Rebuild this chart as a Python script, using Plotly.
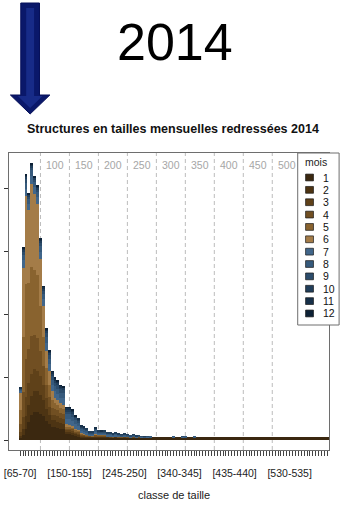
import plotly.graph_objects as go

W, H = 346, 505
FONT = "Liberation Sans, Arial, sans-serif"

# size classes (5 mm wide) and the few that carry a printed label
class_lows = list(range(65, 600, 5))
classes = [f"[{lo}-{lo + 5}]" for lo in class_lows]
labelled = ["[65-70]", "[150-155]", "[245-250]", "[340-345]", "[435-440]", "[530-535]"]
guides = [100, 150, 200, 250, 300, 350, 400, 450, 500]
y_ticks = [0, 100, 200, 300, 400]

months = ["1", "2", "3", "4", "5", "6", "7", "8", "9", "10", "11", "12"]
colors = ["#3b2810", "#4d3413", "#5f4119", "#714f22", "#89632f", "#a47c48",
          "#41668a", "#365a7c", "#2c4c6b", "#213e5a", "#173049", "#0d2136"]

# raised numbers per size class, one list per month
m01 = [3, 8, 18, 28, 40, 45, 45, 42, 38, 30, 25, 20, 20, 19, 18, 17, 9, 9, 8, 7,
       6, 4, 4, 4, 4, 4, 4, 4, 4, 4, 4, 4, 4, 4, 4, 4, 4, 4, 4, 4, 4, 4, 4, 4, 4, 4,
       4, 4, 4, 4, 4, 4, 4, 4, 4, 4, 4, 4, 4, 4, 4, 4, 4, 4, 4, 4, 4, 4, 4, 4,
       4, 4, 4, 4, 4, 4, 4, 4, 4, 4, 4, 4, 4, 4, 4, 4, 4, 4, 4, 4,
       4, 4, 4, 4, 4, 4, 4, 4, 4, 4, 4, 4, 4, 4, 4, 4, 4]
m02 = [4, 10, 20, 27, 30, 32, 32, 30, 26, 20, 15, 11, 11, 10, 9, 9, 4, 4, 4, 3,
       3, 2, 2, 1, 1, 1, 1, 1, 1, 1, 1, 0, 0, 1, 0, 0, 0, 0, 0, 0, 0, 0, 0, 0, 0, 0,
       0, 0, 0, 0, 0, 0, 0, 0, 0, 0, 0, 0, 0, 0, 0, 0, 0, 0, 0, 0, 0, 0, 0, 0,
       0, 0, 0, 0, 0, 0, 0, 0, 0, 0, 0, 0, 0, 0, 0, 0, 0, 0, 0, 0,
       0, 0, 0, 0, 0, 0, 0, 0, 0, 0, 0, 0, 0, 0, 0, 0, 0]
m03 = [6, 18, 30, 35, 35, 35, 33, 30, 24, 17, 13, 9, 9, 9, 8, 8, 3, 3, 3, 2,
       2, 1, 1, 1, 1, 0, 1, 1, 0, 1, 0, 1, 0, 0, 0, 0, 1, 0, 0, 0, 0, 0, 0, 0, 0, 0,
       0, 0, 0, 0, 0, 0, 0, 0, 0, 0, 0, 0, 0, 0, 0, 0, 0, 0, 0, 0, 0, 0, 0, 0,
       0, 0, 0, 0, 0, 0, 0, 0, 0, 0, 0, 0, 0, 0, 0, 0, 0, 0, 0, 0,
       0, 0, 0, 0, 0, 0, 0, 0, 0, 0, 0, 0, 0, 0, 0, 0, 0]
m04 = [12, 40, 60, 55, 60, 55, 52, 40, 30, 20, 15, 11, 10, 9, 8, 8, 3, 3, 3, 2,
       2, 2, 1, 1, 1, 1, 2, 1, 2, 1, 1, 1, 1, 1, 1, 1, 1, 1, 0, 1, 0, 1, 0, 0, 0, 0,
       0, 0, 0, 0, 0, 0, 0, 0, 0, 0, 0, 0, 0, 0, 0, 0, 0, 0, 0, 0, 0, 0, 0, 0,
       0, 0, 0, 0, 0, 0, 0, 0, 0, 0, 0, 0, 0, 0, 0, 0, 0, 0, 0, 0,
       0, 0, 0, 0, 0, 0, 0, 0, 0, 0, 0, 0, 0, 0, 0, 0, 0]
m05 = [22, 87, 119, 105, 110, 103, 100, 70, 45, 27, 20, 13, 9, 9, 8, 8, 3, 3, 2, 2,
       2, 1, 1, 1, 0, 1, 1, 1, 1, 1, 0, 0, 0, 0, 0, 0, 0, 0, 0, 0, 0, 0, 0, 0, 0, 0,
       0, 0, 0, 0, 0, 0, 0, 0, 0, 0, 0, 0, 0, 0, 0, 0, 0, 0, 0, 0, 0, 0, 0, 0,
       0, 0, 0, 0, 0, 0, 0, 0, 0, 0, 0, 0, 0, 0, 0, 0, 0, 0, 0, 0,
       0, 0, 0, 0, 0, 0, 0, 0, 0, 0, 0, 0, 0, 0, 0, 0, 0]
m06 = [28, 110, 140, 115, 132, 120, 112, 75, 50, 28, 21, 14, 8, 7, 7, 6, 3, 2, 2, 2,
       1, 1, 1, 1, 0, 0, 1, 0, 0, 0, 0, 0, 0, 0, 0, 0, 0, 0, 0, 0, 0, 0, 0, 0, 0, 0,
       0, 0, 0, 0, 0, 0, 0, 0, 0, 0, 0, 0, 0, 0, 0, 0, 0, 0, 0, 0, 0, 0, 0, 0,
       0, 0, 0, 0, 0, 0, 0, 0, 0, 0, 0, 0, 0, 0, 0, 0, 0, 0, 0, 0,
       0, 0, 0, 0, 0, 0, 0, 0, 0, 0, 0, 0, 0, 0, 0, 0, 0]
m07 = [3, 12, 12, 10, 12, 11, 11, 12, 11, 12, 11, 10, 10, 10, 9, 10, 9, 9, 8, 7,
       6, 4, 4, 3, 2, 2, 3, 2, 2, 2, 2, 2, 2, 2, 2, 1, 1, 1, 1, 1, 1, 0, 1, 0, 1, 0,
       0, 0, 0, 0, 0, 0, 0, 1, 0, 0, 1, 0, 0, 0, 0, 0, 0, 0, 0, 0, 0, 0, 0, 0,
       0, 0, 0, 0, 0, 0, 0, 0, 0, 0, 0, 0, 0, 0, 0, 0, 0, 0, 0, 0,
       0, 0, 0, 0, 0, 0, 0, 0, 0, 0, 0, 0, 0, 0, 0, 0, 0]
m08 = [2, 9, 9, 7, 9, 8, 8, 9, 8, 9, 9, 8, 8, 8, 8, 8, 7, 8, 7, 6,
       5, 3, 3, 3, 2, 2, 3, 2, 2, 2, 2, 2, 1, 2, 1, 1, 1, 1, 1, 1, 1, 1, 0, 1, 0, 1,
       0, 0, 0, 0, 0, 0, 0, 1, 0, 0, 0, 1, 0, 0, 1, 0, 0, 0, 0, 0, 0, 0, 0, 0,
       0, 0, 0, 0, 0, 0, 0, 0, 0, 0, 0, 0, 0, 0, 0, 0, 0, 0, 0, 0,
       0, 0, 0, 0, 0, 0, 0, 0, 0, 0, 0, 0, 0, 0, 0, 0, 0]
m09 = [1, 5, 6, 4, 5, 5, 5, 6, 6, 7, 6, 6, 6, 6, 6, 6, 5, 5, 5, 4,
       4, 2, 2, 2, 1, 1, 2, 2, 1, 2, 1, 1, 1, 1, 1, 1, 1, 1, 1, 1, 0, 1, 1, 0, 1, 0,
       0, 0, 0, 0, 0, 0, 0, 0, 0, 0, 1, 0, 0, 0, 0, 0, 0, 0, 0, 0, 0, 0, 0, 0,
       0, 0, 0, 0, 0, 0, 0, 0, 0, 0, 0, 0, 0, 0, 0, 0, 0, 0, 0, 0,
       0, 0, 0, 0, 0, 0, 0, 0, 0, 0, 0, 0, 0, 0, 0, 0, 0]
m10 = [1, 3, 4, 3, 3, 2, 3, 3, 3, 4, 4, 4, 4, 4, 3, 3, 3, 3, 3, 2,
       2, 2, 1, 1, 1, 1, 1, 1, 1, 1, 1, 1, 1, 1, 1, 1, 1, 1, 0, 1, 1, 0, 0, 1, 0, 0,
       0, 0, 0, 0, 0, 0, 0, 0, 0, 0, 0, 0, 0, 0, 0, 0, 0, 0, 0, 0, 0, 0, 0, 0,
       0, 0, 0, 0, 0, 0, 0, 0, 0, 0, 0, 0, 0, 0, 0, 0, 0, 0, 0, 0,
       0, 0, 0, 0, 0, 0, 0, 0, 0, 0, 0, 0, 0, 0, 0, 0, 0]
m11 = [1, 2, 2, 1, 2, 1, 2, 2, 2, 2, 2, 2, 3, 2, 2, 1, 2, 2, 2, 1,
       1, 1, 1, 0, 0, 0, 1, 0, 1, 0, 0, 0, 0, 0, 0, 0, 0, 0, 0, 0, 0, 0, 0, 0, 0, 0,
       0, 0, 0, 0, 0, 0, 0, 0, 0, 0, 0, 0, 0, 0, 0, 0, 0, 0, 0, 0, 0, 0, 0, 0,
       0, 0, 0, 0, 0, 0, 0, 0, 0, 0, 0, 0, 0, 0, 0, 0, 0, 0, 0, 0,
       0, 0, 0, 0, 0, 0, 0, 0, 0, 0, 0, 0, 0, 0, 0, 0, 0]
m12 = [0, 1, 1, 1, 1, 1, 1, 1, 1, 1, 1, 1, 1, 1, 1, 1, 1, 1, 1, 1,
       0, 0, 0, 0, 0, 0, 0, 0, 0, 0, 0, 0, 0, 0, 0, 0, 0, 0, 0, 0, 0, 0, 0, 0, 0, 0,
       0, 0, 0, 0, 0, 0, 0, 0, 0, 0, 0, 0, 0, 0, 0, 0, 0, 0, 0, 0, 0, 0, 0, 0,
       0, 0, 0, 0, 0, 0, 0, 0, 0, 0, 0, 0, 0, 0, 0, 0, 0, 0, 0, 0,
       0, 0, 0, 0, 0, 0, 0, 0, 0, 0, 0, 0, 0, 0, 0, 0, 0]

series = [m01, m02, m03, m04, m05, m06, m07, m08, m09, m10, m11, m12]
for s in series:
    if len(s) != len(classes):
        raise ValueError(f"series length {len(s)} != {len(classes)} classes")


def fx(x):
    """pixel column -> paper fraction"""
    return x / W


def fy(y):
    """pixel row (from top) -> paper fraction"""
    return 1 - y / H


fig = go.Figure()
for name, col, vals in zip(months, colors, series):
    fig.add_trace(go.Bar(x=classes, y=vals, name=name, marker_color=col,
                         marker_line_width=0, showlegend=False))

shapes = []
annotations = []

# dashed reference lines every 50 mm with their labels along the top
for g in guides:
    cls = f"[{g}-{g + 5}]"
    shapes.append(dict(type="line", xref="x", yref="y domain", x0=cls, x1=cls,
                       y0=0, y1=1, layer="below",
                       line=dict(color="#bcbcbc", width=1, dash="4px,3px")))
    annotations.append(dict(x=cls, y=fy(164.5), xref="x", yref="paper",
                            xanchor="left", yanchor="middle", xshift=4,
                            text=str(g), showarrow=False,
                            font=dict(family=FONT, size=10.5, color="#a6a6a6")))

# key box for the months
shapes.append(dict(type="rect", xref="paper", yref="paper",
                   x0=fx(297), x1=fx(339), y0=fy(325), y1=fy(153),
                   line=dict(color="#6e6e6e", width=1), fillcolor="white", layer="above"))
annotations.append(dict(x=fx(316), y=fy(162), xref="paper", yref="paper",
                        text="mois", showarrow=False, xanchor="center", yanchor="middle",
                        font=dict(family=FONT, size=10.5, color="#222")))
for k, (name, col) in enumerate(zip(months, colors)):
    yc = 177.5 + k * 12.36
    shapes.append(dict(type="rect", xref="paper", yref="paper",
                       x0=fx(305), x1=fx(313), y0=fy(yc + 3.4), y1=fy(yc - 3.4),
                       line=dict(color="#1a1a1a", width=0.7), fillcolor=col, layer="above"))
    annotations.append(dict(x=fx(320.5), y=fy(yc), xref="paper", yref="paper",
                            text=name, showarrow=False, xanchor="left", yanchor="middle",
                            font=dict(family=FONT, size=10.5, color="#111")))

# downward arrow in the top-left corner
def path(points):
    return "M " + " L ".join(f"{fx(x)},{fy(y)}" for x, y in points) + " Z"


shapes.append(dict(type="path", xref="paper", yref="paper", layer="above",
                   path=path([(16, 3), (35, 3), (35, 95), (45.5, 95), (25.5, 114),
                              (5.5, 95), (16, 95)]),
                   fillcolor="#0a186a", line=dict(color="#06105a", width=1)))
shapes.append(dict(type="path", xref="paper", yref="paper", layer="above",
                   path=path([(21.5, 8), (29.5, 8), (29.5, 96), (38, 96), (25.5, 108),
                              (13, 96), (21.5, 96)]),
                   fillcolor="#172b88", line=dict(width=0)))

annotations += [
    dict(x=fx(172.5), y=fy(42), xref="paper", yref="paper", text="2014",
         showarrow=False, xanchor="center", yanchor="middle",
         font=dict(family=FONT, size=52, color="#000")),
    dict(x=fx(170.5), y=fy(128.5), xref="paper", yref="paper",
         text="<b>Structures en tailles mensuelles redressées 2014</b>",
         showarrow=False, xanchor="center", yanchor="middle",
         font=dict(family=FONT, size=12.5, color="#111")),
    dict(x=fx(171), y=fy(495), xref="paper", yref="paper", text="classe de taille",
         showarrow=False, xanchor="center", yanchor="middle",
         font=dict(family=FONT, size=11, color="#222")),
]

px_per_class = 2.94
first_center = 15.4
x_lo = (4 - first_center) / px_per_class
x_hi = (329 - first_center) / px_per_class
px_per_unit = 0.63
base_row = 440

fig.update_layout(
    width=W, height=H, margin=dict(l=0, r=0, t=0, b=0),
    paper_bgcolor="white", plot_bgcolor="white",
    barmode="stack", bargap=0, showlegend=False,
    shapes=shapes, annotations=annotations,
    xaxis=dict(type="category", domain=[fx(4), fx(329)], range=[x_lo, x_hi],
               showline=True, mirror=True, linecolor="#6e6e6e", linewidth=1,
               ticks="outside", ticklen=5, tickwidth=1, tickcolor="#444",
               tickmode="array", tickvals=classes,
               ticktext=[c if c in labelled else "" for c in classes],
               tickangle=0, ticklabelstandoff=8,
               tickfont=dict(family=FONT, size=10.5, color="#222"),
               showgrid=False, zeroline=False),
    yaxis=dict(domain=[fy(450), fy(153)],
               range=[-(450 - base_row) / px_per_unit, (base_row - 153) / px_per_unit],
               showline=True, mirror=True, linecolor="#6e6e6e", linewidth=1,
               ticks="outside", ticklen=4, tickwidth=1, tickcolor="#333",
               tickmode="array", tickvals=y_ticks, showticklabels=False,
               showgrid=False, zeroline=False),
)

fig.write_html("out.html", config={"displayModeBar": False})
